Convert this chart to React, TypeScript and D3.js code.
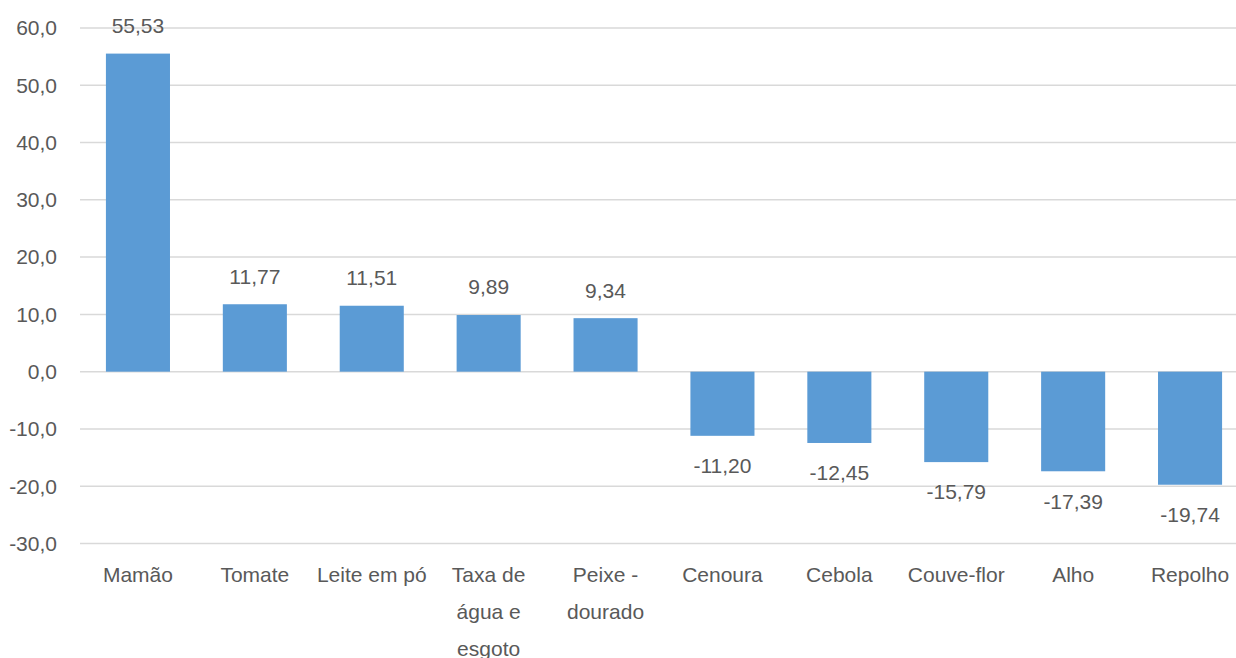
import React from "react";
import * as d3 from "d3";

const categories = ["Mamão", "Tomate", "Leite em pó", "Taxa de água e esgoto", "Peixe - dourado", "Cenoura", "Cebola", "Couve-flor", "Alho", "Repolho"];
const values = [55.53, 11.77, 11.51, 9.89, 9.34, -11.2, -12.45, -15.79, -17.39, -19.74];
const yTicks = [-30, -20, -10, 0, 10, 20, 30, 40, 50, 60];

const W = 1236;
const H = 658;
const FONT = "'Liberation Sans', Arial, sans-serif";
const FS = 21;
const TEXT = "#595959";

function wrap(label: string, maxW: number): string[] {
  const c = document.createElement("canvas").getContext("2d")!;
  c.font = `${FS}px ${FONT}`;
  const words = label.split(" ");
  const lines: string[] = [];
  let cur = "";
  for (const w of words) {
    const t = cur ? cur + " " + w : w;
    if (c.measureText(t).width > maxW && cur) {
      lines.push(cur);
      cur = w;
    } else cur = t;
  }
  if (cur) lines.push(cur);
  return lines;
}

const fmt = (v: number, d: number) => v.toFixed(d).replace(".", ",");

export default function App() {
  const x = d3.scaleBand<string>().domain(categories).range([79.5, 1248.5]).paddingInner(0.452).paddingOuter(0.226);
  const y = d3.scaleLinear().domain([-30, 60]).range([543.5, 28]);
  const step = x.step();
  return (
    <svg width={W} height={H} style={{ position: "absolute", left: 0, top: 0, overflow: "hidden", background: "#fff" }} fontFamily={FONT}>
      <rect x={0} y={0} width={W} height={H} fill="#fff" />
      {yTicks.map((t) => (
        <g key={t}>
          <line x1={80} x2={W} y1={y(t)} y2={y(t)} stroke="#D9D9D9" strokeWidth={1.5} />
          <text x={57} y={y(t)} dy="0.35em" textAnchor="end" fontSize={FS} fill={TEXT}>{fmt(t, 1)}</text>
        </g>
      ))}
      {categories.map((c, i) => {
        const v = values[i];
        const bx = x(c)!;
        const top = y(Math.max(0, v));
        const bot = y(Math.min(0, v));
        const cx = bx + x.bandwidth() / 2;
        const ly = v >= 0 ? top - 28 : bot + 30;
        return (
          <g key={c}>
            <rect x={bx} y={top} width={x.bandwidth()} height={bot - top} fill="#5B9BD5" />
            <text x={cx} y={ly} dy="0.35em" textAnchor="middle" fontSize={FS} fill={TEXT}>{fmt(v, 2)}</text>
            {wrap(c, step - 2).map((ln, j) => (
              <text key={j} x={cx} y={575 + j * 37} dy="0.35em" textAnchor="middle" fontSize={FS} fill={TEXT}>{ln}</text>
            ))}
          </g>
        );
      })}
    </svg>
  );
}
